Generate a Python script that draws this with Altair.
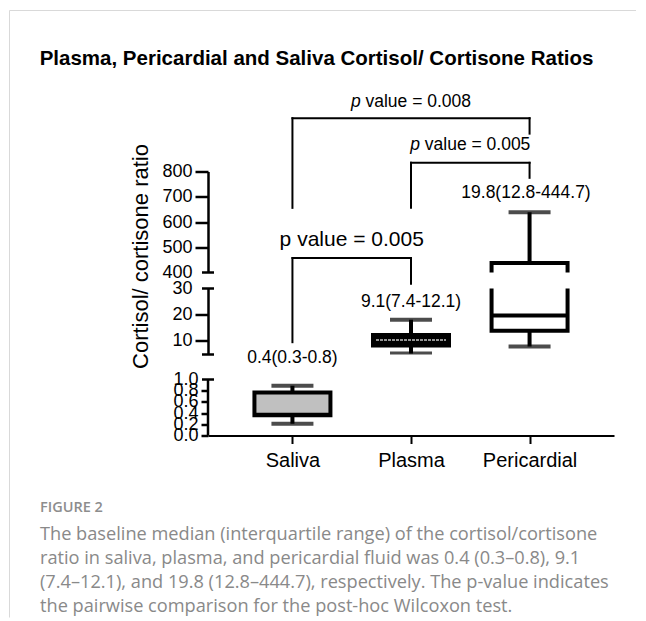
import altair as alt
import pandas as pd

# ---------------- data ----------------
groups = ["Saliva", "Plasma", "Pericardial"]
whisker_low = [0.21, 5.2, 7.9]
q1 = [0.36, 8.2, 13.9]
median = [0.37, 10.3, 19.7]
q3 = [0.77, 12.2, 438.0]
whisker_high = [0.89, 18.1, 639.0]
summary_text = ["0.4(0.3-0.8)", "9.1(7.4-12.1)", "19.8(12.8-444.7)"]

# broken y axis: three segments (top, middle, bottom)
seg_domains = [[400, 800], [4.8, 30], [0, 1]]
seg_ticks = [[400, 500, 600, 700, 800], [10, 20, 30], [0, 0.2, 0.4, 0.6, 0.8, 1.0]]
seg_caps = [[400], [4.8, 30], [1.0]]

# annotation anchors, in the units of the axis segment they are drawn in
label_segment = [1, 1, 0]
label_pos = [0, 1, 1.97]
label_value = [3.65, 24.8, 713]

bracket_segment = [0, 0, 1]
bracket_from = [0, 1, 0]
bracket_to = [2, 2, 1]
bracket_top = [1011, 834.5, 41.6]
bracket_from_end = [656, 656, 9.5]
bracket_to_end = [950, 775, 31.8]
bracket_text_value = [1074, 903, 48.6]
p_values = ["0.008", "0.005", "0.005"]

title = "Plasma, Pericardial and Saliva Cortisol/ Cortisone Ratios"
y_title = "Cortisol/ cortisone ratio"
caption_head = "FIGURE 2"
caption_lines = [
    "The baseline median (interquartile range) of the cortisol/cortisone",
    "ratio in saliva, plasma, and pericardial fluid was 0.4 (0.3\u20130.8), 9.1",
    "(7.4\u201312.1), and 19.8 (12.8\u2013444.7), respectively. The p-value indicates",
    "the pairwise comparison for the post-hoc Wilcoxon test.",
]

# ---------------- tables ----------------
box = pd.DataFrame({"group": groups, "pos": list(range(len(groups))),
                    "lo": whisker_low, "q1": q1, "med": median, "q3": q3, "hi": whisker_high})
labels = pd.DataFrame({"seg": label_segment, "pos": label_pos, "v": label_value, "t": summary_text})
brackets = pd.DataFrame({"seg": bracket_segment, "a": bracket_from, "b": bracket_to,
                         "top": bracket_top, "ae": bracket_from_end, "be": bracket_to_end,
                         "tv": bracket_text_value, "p": p_values})
brackets["mid"] = (brackets["a"] + brackets["b"]) / 2
brackets["rest"] = "value = " + brackets["p"]
brackets["full"] = "p value = " + brackets["p"]

FONT = "Liberation Sans"
W = 406
HEIGHTS = [101, 66, 56]
GAP = 16            # spacing between panels
EXTRA_BOTTOM = 9    # bottom panel is taller by this much so its gap is 25 px
xsc = alt.Scale(domain=[-0.67, 2.67], nice=False, zero=False)
fill = alt.Fill("group:N", scale=alt.Scale(domain=groups, range=["#c0c0c0", "#000000", "#ffffff"]),
                legend=None)

label_expr = "[" + ",".join("'%s'" % g for g in groups) + "][datum.value]"
x_axis_bottom = alt.Axis(values=[0, 1, 2], labelExpr=label_expr, title=None, grid=False,
                         domainColor="black", domainWidth=2, tickColor="black", tickWidth=2,
                         tickSize=8, labelFont=FONT, labelFontSize=20, labelColor="black",
                         labelPadding=7, labelFlush=False)


def make_panel(s):
    lo_d, hi_d = seg_domains[s]
    height = HEIGHTS[s]
    if s == 2:
        # extend the domain upward so the panel gets an extra empty strip on top
        hi_d = hi_d + (hi_d - lo_d) * EXTRA_BOTTOM / HEIGHTS[s]
        height = HEIGHTS[s] + EXTRA_BOTTOM
    ysc = alt.Scale(domain=[lo_d, hi_d], nice=False, zero=False)
    hide = " || ".join("datum.value == %s" % c for c in seg_caps[s])
    ax_kw = dict(values=seg_ticks[s], format=".1f" if s == 2 else "d",
                 tickSize=7 if s == 2 else 13, tickWidth=2.5, domainWidth=2.5,
                 domainColor="black", labelFontSize=18, labelFont=FONT, labelColor="black",
                 labelPadding=3, labelOverlap=False, grid=False, domain=(s != 2),
                 tickColor={"condition": {"test": hide, "value": "transparent"}, "value": "black"})
    if s == 0:
        ax_kw.update(title=y_title, titleX=-68, titleY=84.5, titleAngle=270, titleAlign="center",
                     titleBaseline="middle", titleFontSize=22, titleFont=FONT,
                     titleFontWeight="normal", titleColor="black")
    else:
        ax_kw.update(title=None)
    yax = alt.Axis(**ax_kw)
    xax = x_axis_bottom if s == 2 else None

    def X(f):
        return alt.X(f + ":Q", scale=xsc, axis=xax)

    def Y(f):
        return alt.Y(f + ":Q", scale=ysc, axis=yax)

    base = alt.Chart(box)
    layers = [
        base.mark_rule(strokeWidth=4, color="black", clip=True).encode(x=X("pos"), y=Y("lo"), y2="q1:Q"),
        base.mark_rule(strokeWidth=4, color="black", clip=True).encode(x=X("pos"), y=Y("q3"), y2="hi:Q"),
        base.mark_bar(size=76, stroke="black", strokeWidth=4, clip=True).encode(
            x=X("pos"), y=Y("q1"), y2="q3:Q", fill=fill),
        base.transform_filter("datum.group != 'Plasma'").mark_rule(
            strokeWidth=4, color="black", clip=True, xOffset=-38, x2Offset=38).encode(
            x=X("pos"), x2="pos:Q", y=Y("med")),
        base.transform_filter("datum.group == 'Plasma'").mark_rule(
            strokeWidth=1.5, color="#c4c4c4", strokeDash=[3, 1], clip=True, xOffset=-35, x2Offset=35).encode(
            x=X("pos"), x2="pos:Q", y=Y("med")),
        base.mark_tick(orient="horizontal", size=42, thickness=4, color="black", clip=True).encode(
            x=X("pos"), y=Y("lo")),
        base.mark_tick(orient="horizontal", size=42, thickness=4, color="black", clip=True).encode(
            x=X("pos"), y=Y("hi")),
        alt.Chart(pd.DataFrame({"v": seg_caps[s]})).mark_rule(strokeWidth=2.5, color="black").encode(
            x=alt.value(-6), x2=alt.value(6), y=Y("v")),
    ]
    if s == 2:
        # axis line of the bottom segment, 0 to 1 only
        layers.append(alt.Chart(pd.DataFrame({"a": [seg_domains[2][0]], "b": [seg_domains[2][1]]}))
                      .mark_rule(strokeWidth=2.5, color="black")
                      .encode(x=alt.value(0), y=Y("a"), y2="b:Q"))

    bd = brackets[brackets["seg"] == s]
    if len(bd):
        bc = alt.Chart(bd)
        layers += [
            bc.mark_rule(strokeWidth=2, color="black", strokeCap="square").encode(x=X("a"), x2="b:Q", y=Y("top")),
            bc.mark_rule(strokeWidth=2, color="black", strokeCap="square").encode(x=X("a"), y=Y("top"), y2="ae:Q"),
            bc.mark_rule(strokeWidth=2, color="black", strokeCap="square").encode(x=X("b"), y=Y("top"), y2="be:Q"),
        ]
        if s == 0:
            layers += [
                bc.mark_text(text="p", fontStyle="italic", align="left", baseline="middle",
                             fontSize=17.5, font=FONT, color="black", dx=-60.1).encode(x=X("mid"), y=Y("tv")),
                bc.mark_text(align="left", baseline="middle", fontSize=17.5, font=FONT,
                             color="black", dx=-45.5).encode(x=X("mid"), y=Y("tv"), text="rest:N"),
            ]
        else:
            layers += [
                bc.mark_text(align="center", baseline="middle", fontSize=21, font=FONT,
                             color="black").encode(x=X("mid"), y=Y("tv"), text="full:N"),
            ]

    ld = labels[labels["seg"] == s]
    if len(ld):
        layers.append(alt.Chart(ld).mark_text(align="center", baseline="middle", fontSize=17.5,
                                              font=FONT, color="black").encode(
            x=X("pos"), y=Y("v"), text="t:N"))

    if s == 0:
        layers += [
            alt.Chart(pd.DataFrame({"t": [title]})).mark_text(
                fontSize=20.5, fontWeight="bold", font=FONT, color="black", align="center",
                baseline="middle").encode(text="t:N", x=alt.value(108.5), y=alt.value(-113)),
            alt.Chart(pd.DataFrame({"k": [0]})).mark_rule(color="#d9d9d9", strokeWidth=1).encode(
                x=alt.value(-198.5), y=alt.value(-161), y2=alt.value(446)),
            alt.Chart(pd.DataFrame({"k": [0]})).mark_rule(color="#d9d9d9", strokeWidth=1).encode(
                x=alt.value(-198.5), x2=alt.value(428), y=alt.value(-161)),
        ]
    if s == 2:
        off = EXTRA_BOTTOM
        layers += [
            alt.Chart(pd.DataFrame({"t": [caption_head]})).mark_text(
                fontSize=14.5, fontWeight=600, font="Open Sans", color="#8d8d8d", align="left",
                baseline="middle").encode(text="t:N", x=alt.value(-168), y=alt.value(128 + off)),
            alt.Chart(pd.DataFrame({"k": [0]})).mark_text(
                text=caption_lines, lineHeight=24, fontSize=18.2, font="Open Sans", color="#898989",
                align="left", baseline="alphabetic").encode(x=alt.value(-168), y=alt.value(160 + off)),
        ]

    return alt.layer(*layers).properties(width=W, height=height)


chart = (
    alt.vconcat(make_panel(0), make_panel(1), make_panel(2), spacing=GAP, bounds="flush")
    .resolve_scale(y="independent", x="independent")
    .properties(padding={"left": 1, "top": 1.5, "right": 0, "bottom": 0})
    .configure_view(strokeWidth=0)
)

chart.save("out.html", embed_options={"renderer": "svg", "actions": False})
